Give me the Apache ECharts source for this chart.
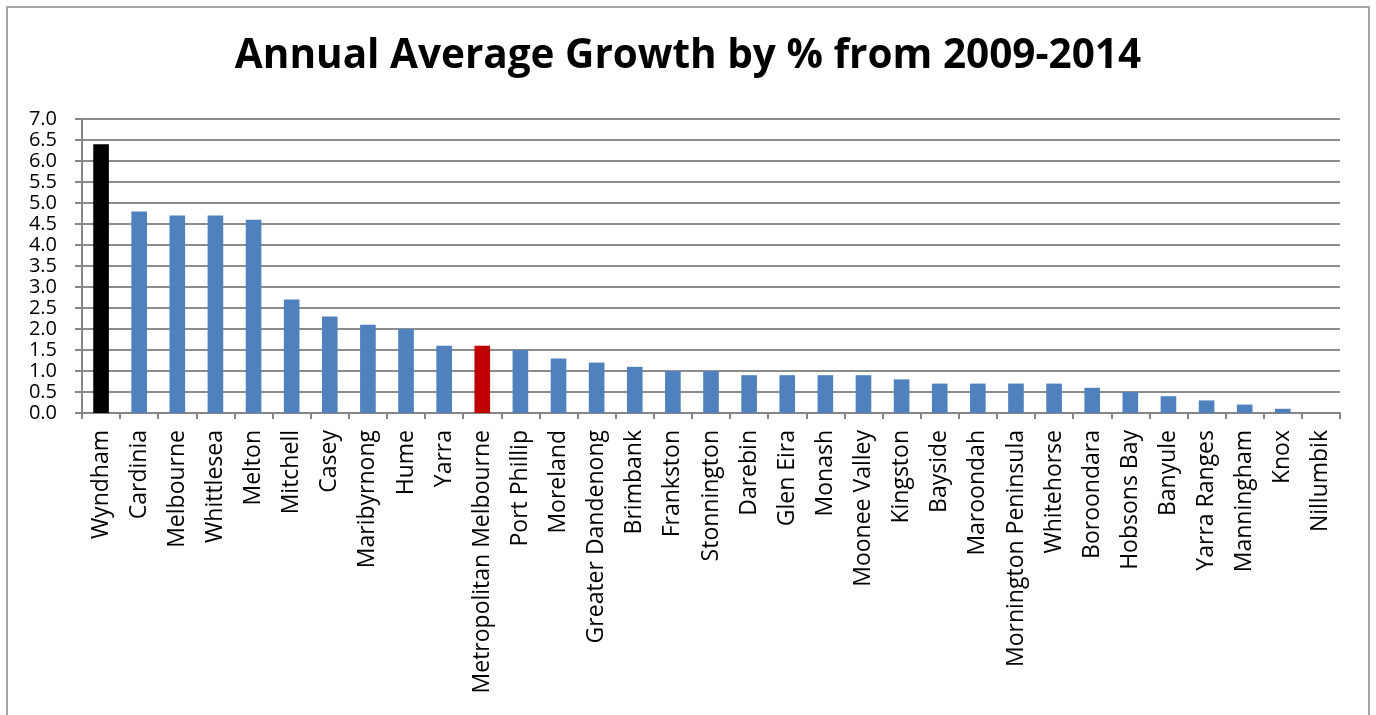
<!DOCTYPE html>
<html><head><meta charset="utf-8">
<script src="https://cdn.jsdelivr.net/npm/echarts@6/dist/echarts.min.js"></script>
<style>html,body{margin:0;padding:0;background:#fff}#c{width:1376px;height:715px}</style>
</head><body><div id="c"></div>
<script>
const categories = ["Wyndham","Cardinia","Melbourne","Whittlesea","Melton","Mitchell","Casey","Maribyrnong","Hume","Yarra","Metropolitan Melbourne","Port Phillip","Moreland","Greater Dandenong","Brimbank","Frankston","Stonnington","Darebin","Glen Eira","Monash","Moonee Valley","Kingston","Bayside","Maroondah","Mornington Peninsula","Whitehorse","Boroondara","Hobsons Bay","Banyule","Yarra Ranges","Manningham","Knox","Nillumbik"];
const values = [6.4,4.8,4.7,4.7,4.6,2.7,2.3,2.1,2.0,1.6,1.6,1.5,1.3,1.2,1.1,1.0,1.0,0.9,0.9,0.9,0.9,0.8,0.7,0.7,0.7,0.7,0.6,0.5,0.4,0.3,0.2,0.1,0.0];
const highlight = {"Wyndham":"#000000","Metropolitan Melbourne":"#c00000"};
const yTicks = {min:0,max:7,interval:0.5};
const font = "'Open Sans', 'DejaVu Sans', sans-serif";

const chart = echarts.init(document.getElementById('c'), null, {renderer:'canvas'});
chart.setOption({
  animation:false,
  backgroundColor:'#fff',
  graphic:[{type:'rect',shape:{x:7,y:7,width:1362,height:720},style:{fill:'none',stroke:'#a6a6a6',lineWidth:2},z:-1}],
  title:{text:'Annual Average Growth by % from 2009-2014',left:'center',top:31,
    textStyle:{fontFamily:font,fontWeight:'bold',fontSize:40.5,color:'#000'}},
  grid:{left:82,right:36,top:119,bottom:302,containLabel:false},
  xAxis:{type:'category',data:categories,boundaryGap:true,
    axisLine:{lineStyle:{color:'#868686',width:2}},
    axisTick:{show:true,length:6,alignWithLabel:false,lineStyle:{color:'#868686',width:2}},
    axisLabel:{rotate:90,interval:0,fontFamily:font,fontSize:23,color:'#000',margin:17}},
  yAxis:{type:'value',min:yTicks.min,max:yTicks.max,interval:yTicks.interval,
    axisLine:{show:true,lineStyle:{color:'#868686',width:2}},
    axisTick:{show:true,length:7,lineStyle:{color:'#868686',width:2}},
    splitLine:{lineStyle:{color:'#8c8c8c',width:2}},
    axisLabel:{fontFamily:font,fontSize:20,lineHeight:20,color:'#000',margin:25,showMinLabel:true,showMaxLabel:true,
      formatter:v=>v.toFixed(1)}},
  series:[{type:'bar',barWidth:'41%',
    data:categories.map((c,i)=>({value:values[i],itemStyle:{color:highlight[c]||'#4f81bd'}}))}]
});
</script></body></html>
